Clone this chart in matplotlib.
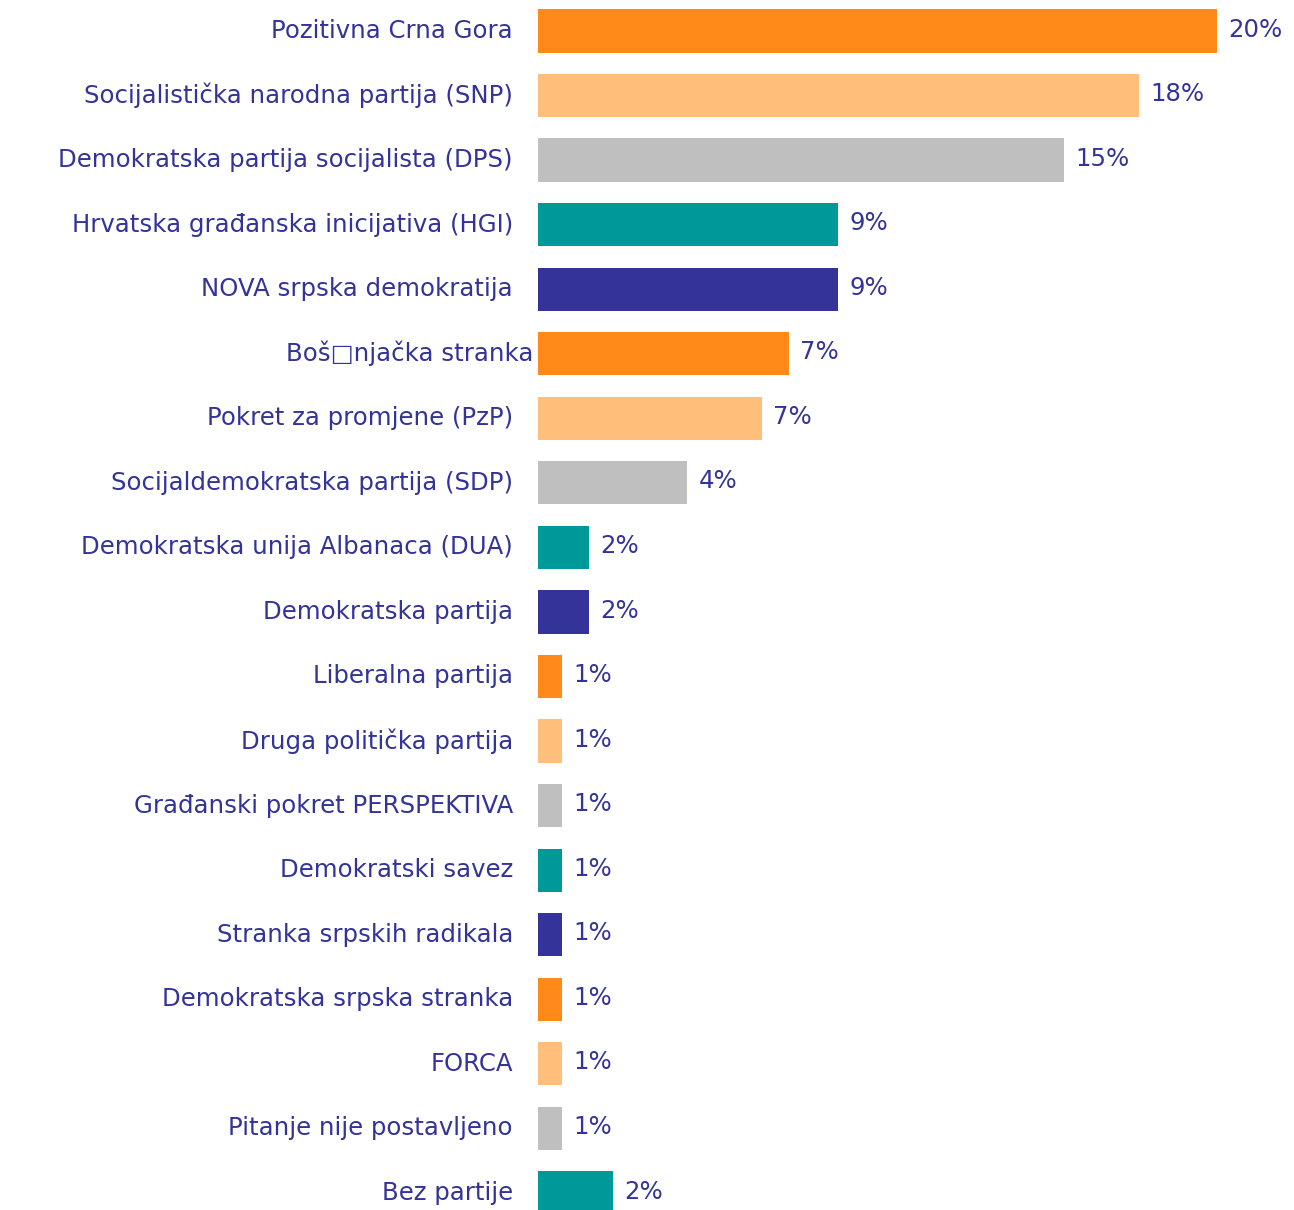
import matplotlib
matplotlib.use("Agg")
import matplotlib.pyplot as plt

categories = [
    "Pozitivna Crna Gora",
    "Socijalistička narodna partija (SNP)",
    "Demokratska partija socijalista (DPS)",
    "Hrvatska građanska inicijativa (HGI)",
    "NOVA srpska demokratija",
    "Boš\u25a1njačka stranka",
    "Pokret za promjene (PzP)",
    "Socijaldemokratska partija (SDP)",
    "Demokratska unija Albanaca (DUA)",
    "Demokratska partija",
    "Liberalna partija",
    "Druga politička partija",
    "Građanski pokret PERSPEKTIVA",
    "Demokratski savez",
    "Stranka srpskih radikala",
    "Demokratska srpska stranka",
    "FORCA",
    "Pitanje nije postavljeno",
    "Bez partije",
]
values = [20.0, 17.7, 15.5, 8.85, 8.85, 7.4, 6.6, 4.4, 1.5, 1.5,
          0.7, 0.7, 0.7, 0.7, 0.7, 0.7, 0.7, 0.7, 2.2]
value_labels = ["20%", "18%", "15%", "9%", "9%", "7%", "7%", "4%", "2%", "2%",
                "1%", "1%", "1%", "1%", "1%", "1%", "1%", "1%", "2%"]
palette = ["#FF8A1A", "#FFBF7B", "#BFBFBF", "#009999", "#333399"]
text_color = "#333399"

W, H = 1294, 1210
fig = plt.figure(figsize=(W / 100, H / 100), dpi=100)
plt.rcParams['font.family'] = ['DejaVu Sans']

x0 = 538
pitch = 64.55
top_px = 31 - pitch / 2
n = len(categories)
ax_h = n * pitch
ax = fig.add_axes([x0 / W, (H - top_px - ax_h) / H, (W - x0) / W, ax_h / H])
ax.set_xlim(0, (W - x0) / 33.95)
ax.set_ylim(n - 0.5, -0.5)

colors = [palette[i % len(palette)] for i in range(n)]
ypos = list(range(n))
ax.barh(ypos, values, height=0.67, color=colors)

fs = 17.6
for i, (v, lab) in enumerate(zip(values, value_labels)):
    ax.annotate(lab, (v, i), xytext=(8, 1), textcoords="offset points",
                ha="left", va="center", fontsize=fs, color=text_color)

for i, cat in enumerate(categories):
    off = -3 if "\u25a1" in cat else -18
    ax.annotate(cat, (0, i), xytext=(off, 0), textcoords="offset points",
                ha="right", va="center", fontsize=fs, color=text_color,
                annotation_clip=False)

ax.set_xticks([])
ax.set_yticks([])
for s in ax.spines.values():
    s.set_visible(False)

fig.savefig("out.png", dpi=100)
